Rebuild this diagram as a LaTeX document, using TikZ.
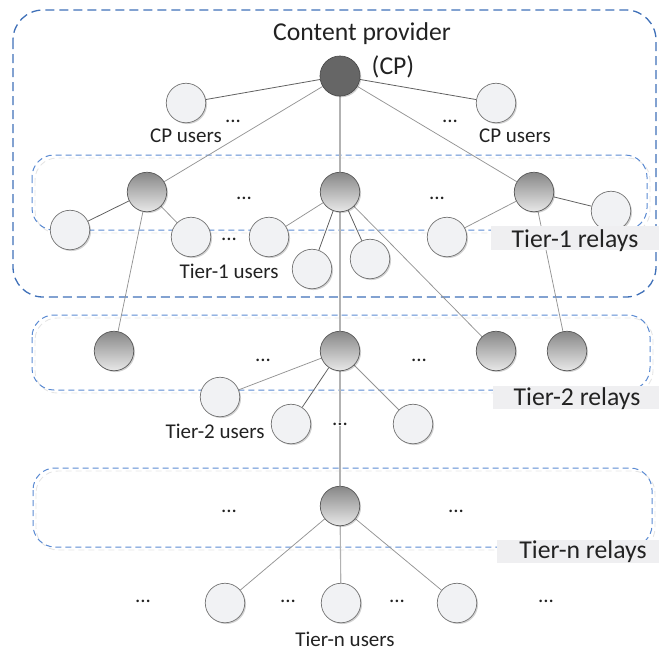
\documentclass[tikz,border=0pt]{standalone}
\usepackage{fontspec}
\setmainfont{Carlito}
\usetikzlibrary{shadows,backgrounds}
\definecolor{outerblue}{HTML}{3F70B8}
\definecolor{tierblue}{HTML}{5A8AD2}
\definecolor{userfill}{HTML}{F1F2F4}
\definecolor{labelfill}{HTML}{EFEFF1}
\definecolor{cpfill}{HTML}{666666}
\definecolor{inkgray}{HTML}{222222}

\begin{document}
\begin{tikzpicture}[x=1pt,y=-1pt,
  every node/.style={text=inkgray},
  small/.style={font=\fontsize{21}{24}\selectfont},
  big/.style={font=\fontsize{25.7}{30}\selectfont},
  nodeshadow/.style={drop shadow={shadow xshift=1.3pt,shadow yshift=-1.3pt,opacity=0.18,fill=black}},
  usernode/.style={circle,draw=black!55,line width=0.7pt,fill=userfill,minimum size=39.5pt,inner sep=0pt,nodeshadow},
  relaynode/.style={circle,draw=black!65,line width=0.7pt,top color=black!47,bottom color=black!9,minimum size=39.5pt,inner sep=0pt,nodeshadow},
  cpnode/.style={circle,draw=black!70,line width=0.7pt,fill=cpfill,minimum size=40pt,inner sep=0pt,nodeshadow},
  dots/.style={small,anchor=base,inner sep=0pt},
  txt/.style={anchor=base,inner sep=0pt},
  link/.style={draw=black!42,line width=0.75pt},
  ulink/.style={draw=black!62,line width=0.8pt},
  trunk/.style={draw=black!30,line width=1.1pt},
  groupbox/.style={draw=tierblue,line width=1pt,dash pattern=on 6pt off 4pt,rounded corners=22pt},
  groupshade/.style={draw=black!10,line width=0.9pt,dash pattern=on 6pt off 4pt,rounded corners=22pt},
  tierlabel/.style={fill=labelfill}
]
\useasboundingbox (0,0) rectangle (659,651);

% ---- content provider and its users
\node[cpnode] (cp) at (340,76) {};
\node[usernode] (cpuL) at (186,103) {};
\node[usernode] (cpuR) at (496,103) {};

% ---- tier-1 relays and users
\node[relaynode] (r1a) at (147,192) {};
\node[relaynode] (r1b) at (340,192) {};
\node[relaynode] (r1c) at (534,192) {};
\node[usernode] (u1a) at (70,230) {};
\node[usernode] (u1b) at (191,237) {};
\node[usernode] (u1c) at (269,237) {};
\node[usernode] (u1d) at (312,269) {};
\node[usernode] (u1e) at (370,259) {};
\node[usernode] (u1f) at (447,237) {};
\node[usernode] (u1g) at (611,211) {};

% ---- tier-2 relays and users
\node[relaynode] (r2a) at (114,351) {};
\node[relaynode] (r2b) at (340,351) {};
\node[relaynode] (r2c) at (496,351) {};
\node[relaynode] (r2d) at (567,351) {};
\node[usernode] (u2a) at (220,397) {};
\node[usernode] (u2b) at (291,424) {};
\node[usernode] (u2c) at (413,424) {};

% ---- tier-n relay and users
\node[relaynode] (rna) at (340,506) {};
\node[usernode] (una) at (225,603) {};
\node[usernode] (unb) at (341,603) {};
\node[usernode] (unc) at (457,603) {};

\begin{pgfonlayer}{background}
  % group outlines
  \draw[draw=outerblue,line width=1.3pt,dash pattern=on 9pt off 5pt,rounded corners=30pt] (13,10) rectangle (656,297);
  \draw[groupshade] (35,158) rectangle (650,233);
  \draw[groupbox] (32,155) rectangle (647,230);
  \draw[groupshade] (35,318) rectangle (653,393);
  \draw[groupbox] (32,315) rectangle (650,390);
  \draw[groupshade] (36,471) rectangle (655,550);
  \draw[groupbox] (33,468) rectangle (652,547);

  % links
  \draw[ulink] (cp) -- (cpuL);
  \draw[ulink] (cp) -- (cpuR);
  \draw[link] (cp) -- (r1a);
  \draw[trunk] (cp) -- (r1b);
  \draw[link] (cp) -- (r1c);

  \draw[ulink] (r1a) -- (u1a);
  \draw[link] (r1a) -- (u1b);
  \draw[link] (r1a) -- (r2a);
  \draw[link] (r1b) -- (u1c);
  \draw[ulink] (r1b) -- (u1d);
  \draw[ulink] (r1b) -- (u1e);
  \draw[trunk] (r1b) -- (r2b);
  \draw[link] (r1b) -- (r2c);
  \draw[link] (r1c) -- (u1f);
  \draw[ulink] (r1c) -- (u1g);
  \draw[link] (r1c) -- (r2d);

  \draw[link] (r2b) -- (u2a);
  \draw[ulink] (r2b) -- (u2b);
  \draw[link] (r2b) -- (u2c);
  \draw[trunk] (r2b) -- (rna);

  \draw[link] (rna) -- (una);
  \draw[trunk] (rna) -- (unb);
  \draw[link] (rna) -- (unc);
\end{pgfonlayer}

% ---- tier labels on shaded strips
\fill[tierlabel] (491,226) rectangle (659,250);
\node[txt,big] (t1lab) at (575,247) {Tier-1 relays};
\fill[tierlabel] (493,386) rectangle (659,409);
\node[txt,big] (t2lab) at (577,405) {Tier-2 relays};
\fill[tierlabel] (497,540) rectangle (659,563);
\node[txt,big] (tnlab) at (583,558) {Tier-n relays};

% ---- texts
\node[txt,big] (cptitle) at (362,40) {Content provider};
\node[txt,big] (cpabbr) at (393,74) {(CP)};
\node[txt,small] (cpuLlab) at (186,142) {CP users};
\node[txt,small] (cpuRlab) at (515,142) {CP users};
\node[txt,small] (u1lab) at (229,278) {Tier-1 users};
\node[txt,small] (u2lab) at (215,438) {Tier-2 users};
\node[txt,small] (unlab) at (345,646) {Tier-n users};

% ---- ellipses
\node[dots] (d1) at (233,122) {...};
\node[dots] (d2) at (450,122) {...};
\node[dots] (d3) at (244,199) {...};
\node[dots] (d4) at (437,199) {...};
\node[dots] (d5) at (229,240) {...};
\node[dots] (d6) at (263,361) {...};
\node[dots] (d7) at (419,361) {...};
\node[dots,fill=white,inner sep=1pt] (d8) at (340,425) {...};
\node[dots] (d9) at (229,512) {...};
\node[dots] (d10) at (456,512) {...};
\node[dots] (d11) at (143,602) {...};
\node[dots] (d12) at (288,602) {...};
\node[dots] (d13) at (397,602) {...};
\node[dots] (d14) at (546,602) {...};
\end{tikzpicture}
\end{document}
